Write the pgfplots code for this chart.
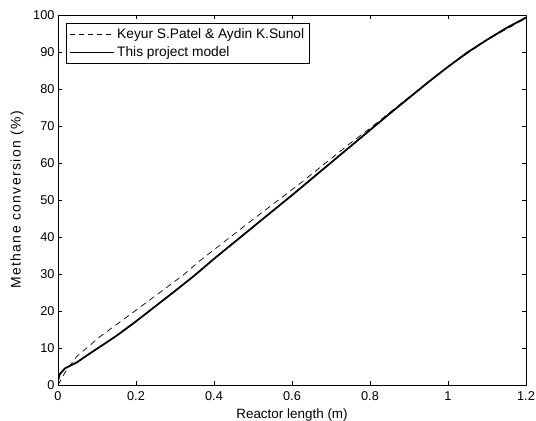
\documentclass[border=0pt]{standalone}
\usepackage{pgfplots}
\pgfplotsset{compat=1.18}
\usepackage{fontspec}
\setmainfont{Liberation Sans}
\newfontfamily\ylabfont[LetterSpace=10]{Liberation Sans}
\pgfplotsset{
  longlegdash/.style={legend image code/.code={\draw[##1, dash pattern=on 5bp off 4bp] (0bp,0bp) -- (44bp,0bp);}},
  longlegsolid/.style={legend image code/.code={\draw[##1] (0bp,0bp) -- (44bp,0bp);}},
}
\begin{document}
\begin{tikzpicture}
\begin{axis}[
  scale only axis,
  width=468bp, height=370bp,
  xmin=0, xmax=1.2, ymin=0, ymax=100,
  xtick={0,0.2,0.4,0.6,0.8,1,1.2},
  xticklabels={0,0.2,0.4,0.6,0.8,1,1.2},
  ytick={0,10,20,30,40,50,60,70,80,90,100},
  tick align=inside,
  tick pos=both,
  major tick length=4bp,
  axis line style={line width=0.9bp},
  every tick/.style={line width=0.7bp, black},
  tick label style={font=\fontsize{12.8}{14}\selectfont},
  xticklabel style={yshift=-3bp},
  /pgf/number format/assume math mode=true,
  xlabel={Reactor length (m)},
  ylabel={\ylabfont Methane conversion (\%)},
  every axis x label/.style={at={(rel axis cs:0.5,0)}, anchor=north, inner sep=0pt,
    yshift=-24bp, font=\fontsize{13.5}{15}\selectfont},
  every axis y label/.style={at={(rel axis cs:0,0.5)}, rotate=90, anchor=center,
    yshift=41bp, font=\fontsize{14}{16}\selectfont},
  legend cell align=left,
  legend style={at={(rel axis cs:0,1)}, anchor=north west,
    xshift=8bp, yshift=-8bp,
    draw=black, line width=0.8bp, font=\fontsize{13.8}{16}\selectfont,
    inner xsep=3bp, inner ysep=3bp, row sep=3bp},
]
\addplot[black, line width=0.7bp, dash pattern=on 6bp off 4.5bp, longlegdash] coordinates {
(0,0) (0.018,3.4) (0.048,7.7) (0.108,13.1) (0.2,20.2) (0.321,29.7) (0.364,33.6)
(0.492,44.1) (0.621,54.5) (0.749,65.3) (0.8,69.4) (0.9,77.8) (1.0,86.0)
(1.1,93.3) (1.2,99.1)};
\addlegendentry{Keyur S.Patel \& Aydin K.Sunol}
\addplot[black, line width=1.8bp, longlegsolid] coordinates {
(0,1.2) (0.005,3.0) (0.018,4.5) (0.048,6.1) (0.073,7.9) (0.1,9.8) (0.15,13.3)
(0.2,17.2) (0.25,21.3) (0.3,25.4) (0.35,29.6) (0.4,34.1) (0.45,38.4)
(0.5,42.7) (0.55,47.0) (0.6,51.3) (0.65,55.7) (0.7,60.1) (0.75,64.5)
(0.8,68.9) (0.85,73.3) (0.9,77.6) (0.95,81.9) (1.0,86.0) (1.05,89.9)
(1.1,93.3) (1.15,96.5) (1.2,99.3)};
\addlegendentry{This project model}
\end{axis}
\pgfresetboundingbox
\useasboundingbox ([shift={(-58bp,-36bp)}]current axis.south west) rectangle ([shift={(10bp,15bp)}]current axis.north east);
\end{tikzpicture}
\end{document}
